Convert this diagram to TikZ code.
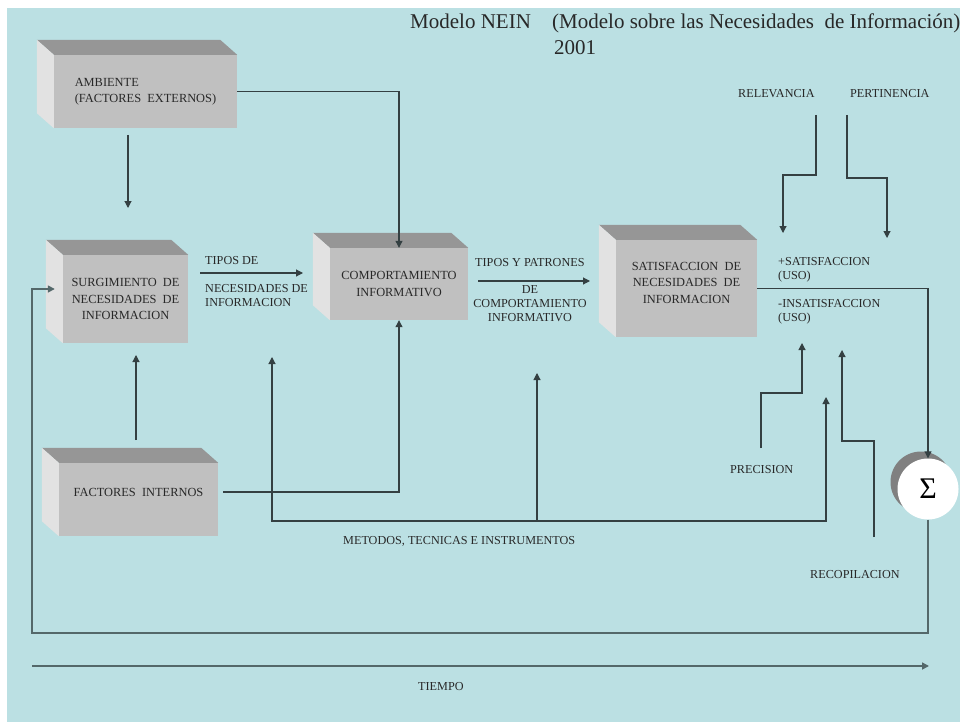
\documentclass[tikz,border=0pt]{standalone}
\usepackage{fontspec}
\setmainfont{Liberation Serif}
\usepackage{xcolor}
\usetikzlibrary{arrows.meta, shadows}

\definecolor{bgcyan}{RGB}{187,224,227}
\definecolor{boxfront}{RGB}{192,192,192}
\definecolor{boxtop}{RGB}{150,150,150}
\definecolor{boxside}{RGB}{226,226,226}
\definecolor{linegray}{RGB}{52,64,66}
\definecolor{fbgray}{RGB}{84,104,106}
\definecolor{txtgray}{RGB}{40,40,40}
\definecolor{sigshade}{RGB}{128,128,128}

\newcommand{\boxfont}{\fontsize{12.4}{16.5}\selectfont}
\newcommand{\lblfont}{\fontsize{12.2}{13.8}\selectfont}
\newcommand{\ttlfont}{\fontsize{21}{26}\selectfont}

% top and left faces of a 3d box
\newcommand{\boxfaces}[1]{%
  \fill[boxtop] (#1.north west) -- ([shift={(-17,-15)}]#1.north west)
    -- ([shift={(-17,-15)}]#1.north east) -- (#1.north east) -- cycle;
  \fill[boxside] (#1.north west) -- ([shift={(-17,-15)}]#1.north west)
    -- ([shift={(-17,-15)}]#1.south west) -- (#1.south west) -- cycle;}

\begin{document}
\begin{tikzpicture}[x=1pt,y=-1pt,
  boxnode/.style={fill=boxfront, inner sep=0pt, font=\boxfont, text=txtgray, align=center},
  lbl/.style={inner sep=0pt, font=\lblfont, text=txtgray},
  arr/.style={draw=linegray, line width=1.1pt, -{Triangle[length=7pt,width=7pt]}},
  fb/.style={draw=fbgray, line width=1.6pt}]
\useasboundingbox (0,0) rectangle (960,722);
\fill[bgcyan] (7,8) rectangle (960,722);

% Title
\node[inner sep=0pt, font=\ttlfont, text=txtgray, anchor=base west] (ttl) at (410,29) {Modelo NEIN};
\node[inner sep=0pt, font=\ttlfont, text=txtgray, anchor=base west] (subttl) at (552,29) {(Modelo sobre las Necesidades\ \ de Información)};
\node[inner sep=0pt, font=\ttlfont, text=txtgray, anchor=base west] (year) at (554,55) {2001};

% Boxes
\node[boxnode, minimum width=183pt, minimum height=73pt, align=left] (amb) at (145.5,91.5) {AMBIENTE\\(FACTORES\ \ EXTERNOS)};
\node[boxnode, minimum width=125pt, minimum height=88pt] (surg) at (125.5,299) {SURGIMIENTO\ \ DE\\NECESIDADES\ \ DE\\INFORMACION};
\node[boxnode, minimum width=138pt, minimum height=72pt] (comp) at (399,284) {COMPORTAMIENTO\\INFORMATIVO};
\node[boxnode, minimum width=141pt, minimum height=97pt, text depth=12pt] (satis) at (686.5,288.5) {SATISFACCION\ \ DE\\NECESIDADES\ \ DE\\INFORMACION};
\node[boxnode, minimum width=159pt, minimum height=73pt, text depth=15pt] (fint) at (138.5,499.5) {FACTORES\ \ INTERNOS};
\boxfaces{amb}
\boxfaces{surg}
\boxfaces{comp}
\boxfaces{satis}
\boxfaces{fint}

% Sum
\node[circle, fill=white, minimum size=61pt, inner sep=0pt, font=\fontsize{30}{30}\selectfont,
  general shadow={shadow xshift=-7pt, shadow yshift=7pt, fill=sigshade}] (sig) at (928,489) {Σ};

% Labels (multi-line: base is the last line)
\node[lbl, anchor=base west] (tiposde) at (205,264) {TIPOS DE};
\node[lbl, anchor=base west, align=left] (necinf) at (205,306) {NECESIDADES DE\\INFORMACION};
\node[lbl, anchor=base west] (tipospat) at (475,266) {TIPOS Y PATRONES};
\node[lbl, anchor=base, align=center] (decomp) at (530,321) {DE\\COMPORTAMIENTO\\INFORMATIVO};
\node[lbl, anchor=base west, align=left] (massat) at (778,279) {+SATISFACCION\\(USO)};
\node[lbl, anchor=base west, align=left] (insat) at (778,321) {-INSATISFACCION\\(USO)};
\node[lbl, anchor=base west] (relev) at (738,98) {RELEVANCIA};
\node[lbl, anchor=base west] (pert) at (850,98) {PERTINENCIA};
\node[lbl, anchor=base west] (prec) at (730,473) {PRECISION};
\node[lbl, anchor=base west] (recop) at (810,578) {RECOPILACION};
\node[lbl, anchor=base west] (metod) at (343,544) {METODOS, TECNICAS E INSTRUMENTOS};
\node[lbl, anchor=base west] (tiempo) at (418,690) {TIEMPO};

% Free ends
\coordinate (am1) at (128,135);  \coordinate (am2) at (128,208);
\coordinate (td1) at (200,273);  \coordinate (td2) at (303,273);
\coordinate (tp1) at (478,281);  \coordinate (tp2) at (590,281);
\coordinate (fi1) at (136,440);  \coordinate (fi2) at (136,355);
\coordinate (mtL) at (272,357);  \coordinate (mbL) at (272,521);
\coordinate (mtM) at (537,373);  \coordinate (mbM) at (537,521);
\coordinate (mtR) at (826,397);  \coordinate (mbR) at (826,521);
\coordinate (r0) at (816,115);   \coordinate (r1) at (816,175);   \coordinate (r2) at (783,233);
\coordinate (p0) at (847,115);   \coordinate (p1) at (847,178);   \coordinate (p2) at (887,238);
\coordinate (pr0) at (761,448);  \coordinate (pr1) at (761,393);  \coordinate (pr2) at (802,343);
\coordinate (rc0) at (874,537);  \coordinate (rc1) at (874,441);  \coordinate (rc2) at (842,350);
\coordinate (fbl) at (32,633);
\coordinate (tm0) at (32,666);   \coordinate (tm1) at (929,666);

% Connectors
\draw[arr] (amb.east) -| (comp.north);
\draw[arr] (am1) -- (am2);
\draw[arr] (td1) -- (td2);
\draw[arr] (tp1) -- (tp2);
\draw[arr] (fi1) -- (fi2);
\draw[arr] ([xshift=5pt,yshift=7.5pt]fint.east) -| (comp.south);
\draw[arr] (satis.east) -| (sig.north);
\draw[arr, {Triangle[length=7pt,width=7pt]}-{Triangle[length=7pt,width=7pt]}] (mtL) -- (mbL) -- (mbR) -- (mtR);
\draw[arr] (mbM) -- (mtM);
\draw[arr] (r0) -- (r1) -| (r2);
\draw[arr] (p0) -- (p1) -| (p2);
\draw[arr] (pr0) -- (pr1) -| (pr2);
\draw[arr] (rc0) -- (rc1) -| (rc2);
\draw[fb, -{Triangle[length=7pt,width=7pt]}] (sig.south) |- (fbl) |- ([xshift=-8pt,yshift=10pt]surg.west);
\draw[fb, -{Triangle[length=7pt,width=7pt]}] (tm0) -- (tm1);
\end{tikzpicture}
\end{document}
